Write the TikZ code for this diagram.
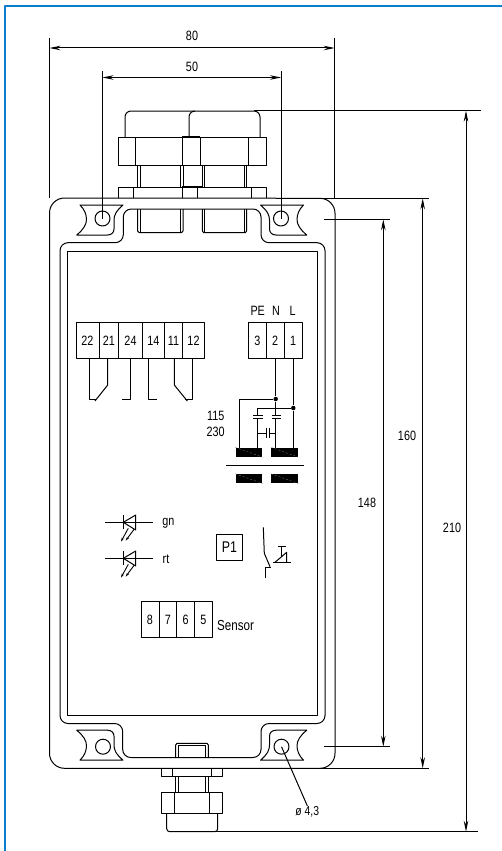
\documentclass[tikz,border=0pt]{standalone}
\usepackage{fontspec}
\setmainfont{Liberation Sans}[FakeStretch=0.8]
\usetikzlibrary{arrows.meta}
\definecolor{framblue}{RGB}{10,125,205}
\tikzset{
	lab/.style={font=\fontsize{13.5}{13.5}\selectfont,inner sep=0pt},
	term/.style={draw,line width=1pt,minimum height=35.6pt,inner sep=0pt,font=\fontsize{13.5}{13.5}\selectfont},
	hole/.style={draw,circle,minimum size=15pt,inner sep=0pt},
	dimen/.style={<->,line width=1pt},
	coil/.style={fill=black,draw=none,minimum width=26.6pt,minimum height=9pt,inner sep=0pt},
	coildiag/.style={gray,line width=0.3pt,dash pattern=on 2pt off 2pt},
	dot/.style={fill=black,circle,minimum size=4.5pt,inner sep=0pt},
	led/.style={line width=0.9pt},
}
\begin{document}
\begin{tikzpicture}[x=1pt,y=-1pt,>={Stealth[length=11pt,width=4.5pt]},line join=round,line width=1pt]
	\useasboundingbox (0,0) rectangle (502,851);
	% frame
	\draw[framblue,line width=2pt] (5,851)--(5,6)--(502,6);
	% housing
	\draw (49.5,213)arc(180:270:15)--(320,198.3)arc(270:360:15)--(335,753.3)arc(0:90:15)--(64.5,768.3)arc(90:180:15)--cycle;
	\draw[rounded corners=8pt] (60,300)--(60,242.7)--(123.3,242.7)--(123.3,209)--(261,209)--(261,242.7)--(325,242.7)--(325,723.5)--(261,723.5)--(261,757.5)--(122.7,757.5)--(122.7,723.5)--(60,723.5)--cycle;
	\draw (67,251) rectangle (317,715);
	% ears
	\foreach \cx/\cy/\sx/\sy in {102.5/218.5/1/1,281/218.5/-1/1,102.5/746.7/1/-1,281/746.7/-1/-1}{
		\begin{scope}[shift={(\cx,\cy)},xscale=\sx,yscale=\sy]
			\draw (-22.5,-13.5)--(20.5,-13.5)..controls (13,-7) and (11.5,-3) ..(11.5,2)--(11.5,10.5)..controls (11.5,14) and (9,16.5) ..(5,16.5)--(-25.8,16.5)..controls (-19,11) and (-16,6) ..(-16,1)..controls (-16,-4) and (-18,-9) ..(-22.5,-13.5)--cycle;
		\end{scope}
	}
	\node[hole] (h1) at (102.5,218.5) {};
	\node[hole] (h2) at (281,218.5) {};
	\node[hole] (h3) at (103,746.7) {};
	\node[hole] (h4) at (281.5,746.7) {};
	% top gland
	\draw (125,137)--(125,117)arc(180:270:6)--(254,111)arc(270:360:6)--(260,137);
	\draw (189,137)--(189,117)arc(180:270:6)--(195,111);
	\draw (118,137) rectangle (266,165);
	\draw (135.5,137)--(135.5,165) (248,137)--(248,165) (182,137)--(182,165) (200,137)--(200,165);
	\draw[line width=1.8pt] (182,137)--(200,137) (182,187)--(202,187);
	\foreach \xa/\xb in {137.7/140.3,180/183,202.3/204.7,244/246.7}{
		\draw (\xa,165)--(\xa,187) (\xb,165)--(\xb,187);
	}
	\draw (118,198.3)--(118,187)--(266,187)--(266,198.3) (133,187)--(133,198.3) (182.5,187)--(182.5,198.3) (197.5,187)--(197.5,198.3) (251,187)--(251,198.3);
	\foreach \xa/\xb in {137.7/183,202.3/246.7}{
		\draw (\xa,209)--(\xa,231)--(\xa+1.5,232.7)--(\xb-1.5,232.7)--(\xb,231)--(\xb,209);
		\draw (\xa+2.6,209)--(\xa+2.6,232) (\xb-2.6,209)--(\xb-2.6,232);
	}
	% bottom gland
	\draw (175.7,757.5)--(175.7,745)--(177,743.3)--(207,743.3)--(208.3,745)--(208.3,757.5);
	\draw (178.3,757.5)--(178.3,745.5)--(205.7,745.5)--(205.7,757.5);
	\draw (161.7,768.3) rectangle (222.7,776.7);
	\draw (172.3,768.3)--(172.3,776.7) (211.7,768.3)--(211.7,776.7);
	\foreach \xa in {175.7,178.3,205.7,208.3}{
		\draw (\xa,776.7)--(\xa,792.3);
	}
	\draw (161.7,792.3) rectangle (222.7,813.3);
	\draw (174.3,792.3)--(174.3,813.3) (209.3,792.3)--(209.3,813.3);
	\draw (166.7,813.3)--(166.7,828.7)arc(180:90:3)--(214.7,831.7)arc(90:0:3)--(217.7,813.3);
	% dimensions
	\coordinate (d80l) at (49.5,48);
	\coordinate (d80r) at (334.7,48);
	\coordinate (d50l) at (102.5,77.5);
	\coordinate (d50r) at (281,77.5);
	\coordinate (d210t) at (466,110.7);
	\coordinate (d210b) at (466,831.7);
	\coordinate (d160t) at (422.7,198.3);
	\coordinate (d160b) at (422.7,768.3);
	\coordinate (d148t) at (383.3,219.3);
	\coordinate (d148b) at (383.3,746.7);
	\draw (49.5,38)--(49.5,198.3);
	\draw (334.7,38)--(334.7,198.3);
	\draw (102.5,71)--(h1.center);
	\draw (281,71)--(h2.center);
	\draw[dimen] (d80l)--(d80r);
	\draw[dimen] (d50l)--(d50r);
	\draw[dimen] (d210t)--(d210b);
	\draw[dimen] (d160t)--(d160b);
	\draw[dimen] (d148t)--(d148b);
	\draw (254,110.7)--(481,110.7);
	\draw (214,831.7)--(478,831.7);
	\draw (320,198.3)--(429,198.3);
	\draw (320,768.3)--(429,768.3);
	\draw (324,219.3)--(390,219.3);
	\draw (324,746.7)--(390,746.7);
	\node[lab] (l80) at (192,36) {80};
	\node[lab] (l50) at (192,66.5) {50};
	\node[lab] (l210) at (452,528) {210};
	\node[lab] (l160) at (407,436) {160};
	\node[lab] (l148) at (367,503) {148};
	\node[lab,font=\fontsize{13}{13}\selectfont] (ldia) at (307.3,811.7) {ø 4,3};
	\draw (h4.center)--(ldia.north);
	% terminals
	\foreach \name/\txt/\xa/\xb/\ym in {t22/22/76/99/340.5,t21/21/99/118.7/340.5,t24/24/118.7/142.3/340.5,t14/14/142.3/164.3/340.5,t11/11/164.3/182.7/340.5,t12/12/182.7/204.3/340.5,t3/3/248.3/266.3/340.5,t2/2/266.3/284/340.5,t1/1/284/302/340.5,t8/8/141/159/619.5,t7/7/159/176.7/619.5,t6/6/176.7/194.7/619.5,t5/5/194.7/212.3/619.5}{
		\pgfmathsetmacro{\tw}{\xb-\xa}
		\pgfmathsetmacro{\tc}{(\xa+\xb)/2}
		\node[term,minimum width=\tw pt] (\name) at (\tc,\ym) {\txt};
	}
	\node[lab] (lpe) at (257.7,311) {PE};
	\node[lab] (ln) at (276,311) {N};
	\node[lab] (ll) at (292.7,311) {L};
	\node[lab,font=\fontsize{14.5}{14.5}\selectfont] (lsens) at (235.5,626) {Sensor};
	\node[lab] (l115) at (215.7,415.7) {115};
	\node[lab] (l230) at (215.7,431.7) {230};
	% contacts
	\coordinate (c22) at (89.3,399.3);
	\coordinate (c21) at (107.7,385);
	\coordinate (c24) at (130.3,399.3);
	\coordinate (c14) at (148,399.3);
	\coordinate (c11) at (174.3,385);
	\coordinate (c12) at (192.3,399.3);
	\draw (c22 |- t22.south)--(c22)--++(6.7,0);
	\draw (c21 |- t21.south)--(c21)--(95,401);
	\draw (c24 |- t24.south)--(c24)--++(-8.6,0);
	\draw (c14 |- t14.south)--(c14)--++(8.7,0);
	\draw (c11 |- t11.south)--(c11)--(187.3,401);
	\draw (c12 |- t12.south)--(c12)--++(-7.3,0);
	% coils
	\node[coil] (k1) at (249,452.2) {};
	\node[coil] (k2) at (284.7,452.2) {};
	\node[coil] (k3) at (249,478.7) {};
	\node[coil] (k4) at (284.7,478.7) {};
	\foreach \k in {k1,k2,k3,k4}{
		\draw[coildiag] (\k.north west)--(\k.south east);
	}
	\coordinate (bara) at (226,465);
	\coordinate (barb) at (303.7,465);
	\draw (bara)--(barb);
	% wiring
	\node[dot] (j1) at (275.7,399) {};
	\node[dot] (j2) at (293.3,408) {};
	\coordinate (w1) at (239.7,447.7);
	\coordinate (w2) at (257.7,447.7);
	\draw (t2.south -| j1)--(j1)--(275.7,415) (275.7,418.3)--(275.7,447.7);
	\draw (t1.south -| j2)--(j2)--(293.3,447.7);
	\draw (j1)--(239.7,399)--(w1);
	\draw (j2)--(257.7,408)--(257.7,415) (257.7,418.3)--(w2);
	\draw (253.3,415)--(262.7,415) (253.3,418.3)--(262.7,418.3);
	\draw (271.7,415)--(280.7,415) (271.7,418.3)--(280.7,418.3);
	\draw (257.7,433.3)--(266.7,433.3) (266.7,427.7)--(266.7,438.3) (269,427.7)--(269,438.3) (269,433.3)--(275.7,433.3);
	% leds
	\foreach \ly/\txt/\tx/\nm in {522.3/gn/168.3/lgn,558.3/rt/166/lrt}{
		\begin{scope}[shift={(0,\ly)}]
			\draw (105,0)--(152.7,0);
			\draw (123.3,-7)--(123.3,7);
			\draw (123.3,0)--(135.7,-7.3)--(135.7,7.7)--cycle;
			\draw[led,-{Stealth[length=4pt,width=2.5pt]}] (128.3,6)--(121,19.3);
			\draw[led,-{Stealth[length=4pt,width=2.5pt]}] (134.3,6.7)--(125.7,18.3);
			\node[lab] (\nm) at (\tx,0.7) {\txt};
		\end{scope}
	}
	% key switch
	\node[draw,line width=1pt,minimum width=26.4pt,minimum height=26pt,inner sep=0pt,font=\fontsize{15.5}{15.5}\selectfont] (p1) at (229.5,547.3) {P1};
	\draw (263.3,527.3)--(264.3,553.3)--(270,566.7);
	\draw (265,578.3)--(265,567.3)--(271,567.3);
	\draw (273.3,562.3)--(291,562.3);
	\draw (275,562.3)--(286.7,552.3)--(286.7,562.3);
	\draw (281.7,556.7)--(281.7,546.7) (277.7,546.7)--(285.7,546.7);
\end{tikzpicture}
\end{document}
